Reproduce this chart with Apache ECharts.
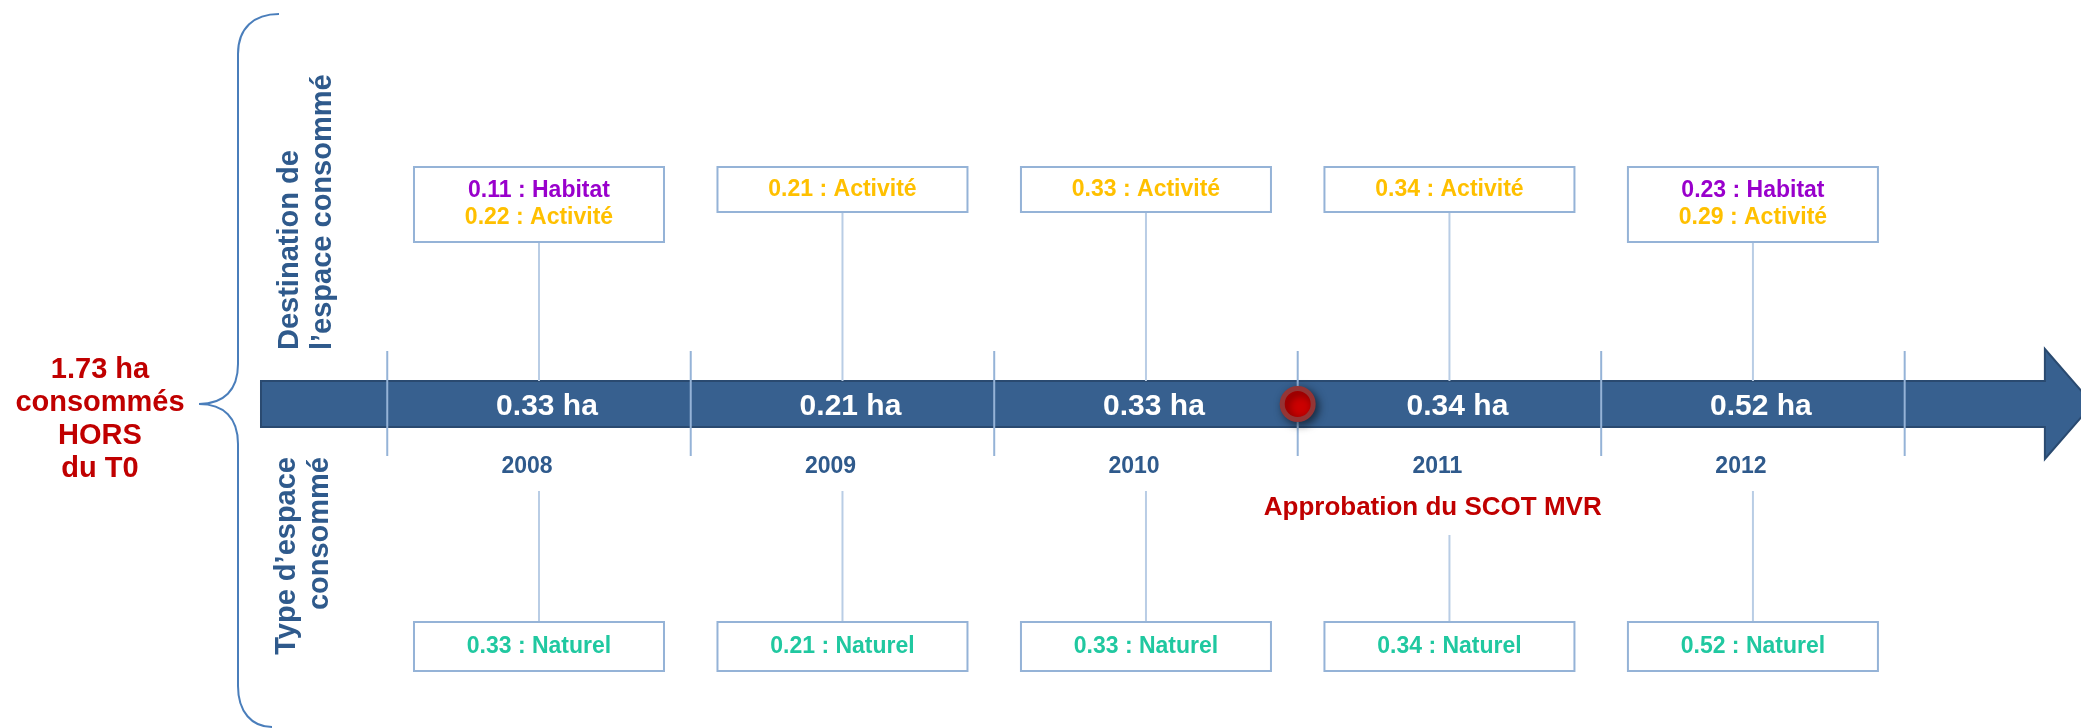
<!DOCTYPE html>
<html>
<head>
<meta charset="utf-8">
<script src="https://cdn.jsdelivr.net/npm/echarts@6/dist/echarts.min.js"></script>
<style>
html, body { margin: 0; padding: 0; background: #fff; }
#main { width: 2081px; height: 728px; }
</style>
</head>
<body>
<div id="main"></div>
<script>
// data
var years = [2008, 2009, 2010, 2011, 2012];
var totals = [0.33, 0.21, 0.33, 0.34, 0.52];
var habitat = [0.11, null, null, null, 0.23];
var activite = [0.22, 0.21, 0.33, 0.34, 0.29];
var naturel = [0.33, 0.21, 0.33, 0.34, 0.52];
var separators = [2007.5, 2008.5, 2009.5, 2010.5, 2011.5, 2012.5];
var scotDate = 2010.5;
var scotLabel = 'Approbation du SCOT MVR';

// colours
var C_BAR = '#37608f', C_BAR_LINE = '#2a4a70';
var C_TXT = '#2f5a8c', C_RED = '#c00000';
var C_HAB = '#9900cc', C_ACT = '#ffc000', C_NAT = '#20c8a0';
var C_BOX = '#95b3d7', C_LINK = '#b9cde5', C_BRACE = '#4a7ebb';
var FONT = '"Liberation Sans", Arial, sans-serif';
function font(s) { return 'bold ' + s + 'px ' + FONT; }

// layout (y axis is 0..728 top-down)
var BAR_TOP = 381, BAR_BOT = 427, BAR_MID = 404;
var HEAD_TOP = 349, HEAD_BOT = 459;
var TICK_TOP = 351, TICK_BOT = 456;
var UP_BOX_TOP = 167, LOW_BOX_TOP = 622, LOW_BOX_H = 49, LOW_LINE_TOP = 491;
var YEAR_Y = 467, BOX_W = 250;

var chart = echarts.init(document.getElementById('main'));

function text(x, y, s, color, size, align) {
    return {
        type: 'text',
        style: {
            x: x, y: y, text: s, fill: color, font: font(size),
            align: align || 'center', verticalAlign: 'middle',
            textAlign: align || 'center', textVerticalAlign: 'middle'
        }
    };
}
function line(x, y1, y2, color) {
    return {
        type: 'line',
        shape: { x1: x, y1: y1, x2: x, y2: y2 },
        style: { stroke: color, lineWidth: 2 }
    };
}
function box(cx, top, h) {
    return {
        type: 'rect',
        shape: { x: cx - BOX_W / 2, y: top, width: BOX_W, height: h },
        style: { fill: '#fff', stroke: C_BOX, lineWidth: 2 }
    };
}
function curve(p1, c1, c2, p2) {
    return {
        type: 'bezierCurve',
        shape: { x1: p1[0], y1: p1[1], cpx1: c1[0], cpy1: c1[1], cpx2: c2[0], cpy2: c2[1], x2: p2[0], y2: p2[1] },
        style: { fill: null, stroke: C_BRACE, lineWidth: 2 }
    };
}
function seg(p1, p2) {
    return {
        type: 'line',
        shape: { x1: p1[0], y1: p1[1], x2: p2[0], y2: p2[1] },
        style: { stroke: C_BRACE, lineWidth: 2 }
    };
}

function renderArrow(params, api) {
    var x0 = api.coord([api.value(0) - 0.916, BAR_MID])[0];
    var xh = api.coord([api.value(1) + 0.962, BAR_MID])[0];
    var xt = api.coord([api.value(1) + 1.12, BAR_MID])[0];
    var p = function (x, v) { return [x, api.coord([0, v])[1]]; };
    return {
        type: 'polygon',
        shape: { points: [p(x0, BAR_TOP), p(xh, BAR_TOP), p(xh, HEAD_TOP), p(xt, BAR_MID),
                          p(xh, HEAD_BOT), p(xh, BAR_BOT), p(x0, BAR_BOT)] },
        style: { fill: C_BAR, stroke: C_BAR_LINE, lineWidth: 2 }
    };
}

function renderTick(params, api) {
    var a = api.coord([api.value(0), TICK_TOP]);
    var b = api.coord([api.value(0), TICK_BOT]);
    return line(a[0], a[1], b[1], C_BOX);
}

function renderYear(params, api) {
    var i = params.dataIndex;
    var yr = api.value(0);
    var cx = api.coord([yr, 0])[0];
    var py = function (v) { return api.coord([yr, v])[1]; };
    var kids = [];

    var rows = [];
    if (habitat[i] != null) rows.push([habitat[i].toFixed(2) + ' : Habitat', C_HAB]);
    if (activite[i] != null) rows.push([activite[i].toFixed(2) + ' : Activité', C_ACT]);
    var h = 15 + 30 * rows.length;
    kids.push(line(cx, py(UP_BOX_TOP + h), py(BAR_TOP), C_LINK));
    kids.push(box(cx, py(UP_BOX_TOP), py(UP_BOX_TOP + h) - py(UP_BOX_TOP)));
    var first = UP_BOX_TOP + (h - 27 * rows.length) / 2 + 13.5;
    rows.forEach(function (r, k) {
        kids.push(text(cx, py(first + 27 * k), r[0], r[1], 23));
    });

    kids.push(text(cx + 8, py(BAR_MID + 3), totals[i].toFixed(2) + ' ha', '#fff', 30));
    kids.push(text(cx - 12, py(YEAR_Y), String(yr), C_TXT, 23));

    kids.push(line(cx, py(LOW_LINE_TOP), py(LOW_BOX_TOP), C_LINK));
    kids.push(box(cx, py(LOW_BOX_TOP), LOW_BOX_H));
    kids.push(text(cx, py(LOW_BOX_TOP + LOW_BOX_H / 2), naturel[i].toFixed(2) + ' : Naturel', C_NAT, 23));

    return { type: 'group', children: kids };
}

var total = totals.reduce(function (a, b) { return a + b; }, 0);

var option = {
    backgroundColor: '#fff',
    animation: false,
    grid: { left: 0, right: 0, top: 0, bottom: 0 },
    xAxis: { type: 'value', min: 2006.224, max: 2013.081, show: false },
    yAxis: { type: 'value', min: 0, max: 728, inverse: true, show: false },
    graphic: [
        curve([279, 14], [254, 14], [238, 28], [238, 54]),
        seg([238, 54], [238, 364]),
        curve([238, 364], [238, 390], [224, 404], [199, 404]),
        curve([199, 404], [224, 404], [238, 418], [238, 444]),
        seg([238, 444], [238, 686]),
        curve([238, 686], [238, 712], [252, 727], [272, 727]),
        {
            type: 'text', x: 100, y: 419,
            style: {
                text: total.toFixed(2) + ' ha\nconsommés\nHORS\ndu T0',
                fill: C_RED, font: font(29), lineHeight: 33,
                align: 'center', verticalAlign: 'middle',
                textAlign: 'center', textVerticalAlign: 'middle'
            }
        },
        {
            type: 'text', x: 306, y: 350, rotation: Math.PI / 2,
            style: {
                text: 'Destination de\nl’espace consommé',
                fill: C_TXT, font: font(29), lineHeight: 33,
                align: 'left', verticalAlign: 'middle',
                textAlign: 'left', textVerticalAlign: 'middle'
            }
        },
        {
            type: 'text', x: 303, y: 457, rotation: Math.PI / 2,
            style: {
                text: 'Type d’espace\nconsommé',
                fill: C_TXT, font: font(29), lineHeight: 33,
                align: 'right', verticalAlign: 'middle',
                textAlign: 'right', textVerticalAlign: 'middle'
            }
        }
    ],
    series: [
        {
            type: 'custom', z: 1, silent: true,
            renderItem: renderArrow,
            data: [[years[0], years[years.length - 1]]]
        },
        {
            type: 'custom', z: 2, silent: true,
            renderItem: renderTick,
            data: separators.map(function (v) { return [v]; })
        },
        {
            type: 'custom', z: 3, silent: true,
            renderItem: renderYear,
            data: years.map(function (y, i) { return [y, totals[i]]; })
        },
        {
            type: 'scatter', z: 4, silent: true,
            symbolSize: 31,
            itemStyle: {
                color: '#cc0000', borderColor: '#943535', borderWidth: 5, opacity: 1,
                shadowBlur: 8, shadowColor: 'rgba(0,0,0,0.5)', shadowOffsetX: 3, shadowOffsetY: 3
            },
            label: {
                show: true, position: 'inside', offset: [135, 104],
                formatter: scotLabel, color: C_RED,
                fontFamily: FONT, fontWeight: 'bold', fontSize: 26,
                backgroundColor: '#fff', padding: [14, 6, 14, 6]
            },
            data: [[scotDate, BAR_MID]]
        }
    ]
};

chart.setOption(option);
</script>
</body>
</html>
